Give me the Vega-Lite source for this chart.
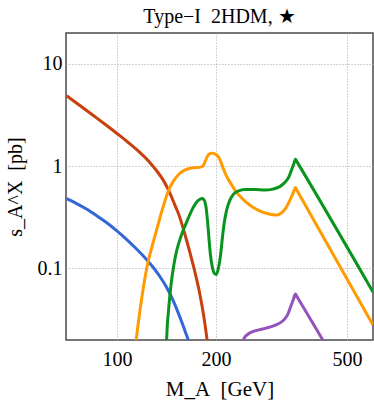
{
  "$schema": "https://vega.github.io/schema/vega-lite/v6.json",
  "width": 307,
  "height": 307,
  "autosize": "none",
  "padding": {"left": 66, "top": 33, "right": 1, "bottom": 61},
  "title": {"text": "Type−I\u00a0 2HDM, ★", "font": "Liberation Serif", "fontSize": 20, "fontWeight": "normal", "color": "#000000", "offset": 6},
  "config": {
    "view": {"stroke": "#4a4a4a", "strokeWidth": 1.5}
  },
  "data": {"values": [
    {"s": "red", "m": 70.33, "v": 4.873}, {"s": "red", "m": 77.5, "v": 3.876}, {"s": "red", "m": 84.8, "v": 3.123}, {"s": "red", "m": 92.2, "v": 2.551}, {"s": "red", "m": 100.2, "v": 2.075}, {"s": "red", "m": 108.2, "v": 1.703}, {"s": "red", "m": 117.5, "v": 1.354}, {"s": "red", "m": 126.0, "v": 1.082}, {"s": "red", "m": 132.3, "v": 0.894}, {"s": "red", "m": 137.9, "v": 0.738}, {"s": "red", "m": 143.7, "v": 0.577}, {"s": "red", "m": 149.8, "v": 0.421}, {"s": "red", "m": 152.9, "v": 0.36}, {"s": "red", "m": 156.2, "v": 0.297}, {"s": "red", "m": 160.6, "v": 0.2195}, {"s": "red", "m": 166.3, "v": 0.1465}, {"s": "red", "m": 172.1, "v": 0.0956}, {"s": "red", "m": 178.2, "v": 0.0583}, {"s": "red", "m": 183.2, "v": 0.0356}, {"s": "red", "m": 187.1, "v": 0.0222}, {"s": "red", "m": 188.4, "v": 0.01855},
    {"s": "blue", "m": 70.33, "v": 0.4812}, {"s": "blue", "m": 75.4, "v": 0.4306}, {"s": "blue", "m": 80.8, "v": 0.3806}, {"s": "blue", "m": 86.6, "v": 0.329}, {"s": "blue", "m": 92.9, "v": 0.2811}, {"s": "blue", "m": 99.5, "v": 0.2359}, {"s": "blue", "m": 106.7, "v": 0.194}, {"s": "blue", "m": 114.3, "v": 0.1567}, {"s": "blue", "m": 122.6, "v": 0.1238}, {"s": "blue", "m": 128.6, "v": 0.1034}, {"s": "blue", "m": 135.0, "v": 0.0835}, {"s": "blue", "m": 140.8, "v": 0.0675}, {"s": "blue", "m": 146.7, "v": 0.0521}, {"s": "blue", "m": 152.9, "v": 0.0381}, {"s": "blue", "m": 158.4, "v": 0.0284}, {"s": "blue", "m": 162.8, "v": 0.0222}, {"s": "blue", "m": 166.3, "v": 0.01834},
    {"s": "orange", "m": 113.9, "v": 0.01854}, {"s": "orange", "m": 114.3, "v": 0.01984}, {"s": "orange", "m": 115.9, "v": 0.02811}, {"s": "orange", "m": 117.5, "v": 0.03937}, {"s": "orange", "m": 119.2, "v": 0.05393}, {"s": "orange", "m": 121.7, "v": 0.0817}, {"s": "orange", "m": 124.2, "v": 0.1144}, {"s": "orange", "m": 127.7, "v": 0.1621}, {"s": "orange", "m": 131.3, "v": 0.2245}, {"s": "orange", "m": 135.0, "v": 0.311}, {"s": "orange", "m": 138.8, "v": 0.4211}, {"s": "orange", "m": 141.8, "v": 0.5213}, {"s": "orange", "m": 144.7, "v": 0.617}, {"s": "orange", "m": 147.8, "v": 0.6982}, {"s": "orange", "m": 151.9, "v": 0.7899}, {"s": "orange", "m": 156.2, "v": 0.864}, {"s": "orange", "m": 160.6, "v": 0.9141}, {"s": "orange", "m": 166.3, "v": 0.9497}, {"s": "orange", "m": 173.3, "v": 0.967}, {"s": "orange", "m": 179.5, "v": 0.9777}, {"s": "orange", "m": 183.2, "v": 1.023}, {"s": "orange", "m": 185.8, "v": 1.132}, {"s": "orange", "m": 188.4, "v": 1.252}, {"s": "orange", "m": 191.6, "v": 1.324}, {"s": "orange", "m": 195.0, "v": 1.339}, {"s": "orange", "m": 199.1, "v": 1.309}, {"s": "orange", "m": 202.6, "v": 1.252}, {"s": "orange", "m": 206.2, "v": 1.132}, {"s": "orange", "m": 210.5, "v": 0.9454}, {"s": "orange", "m": 214.9, "v": 0.8079}, {"s": "orange", "m": 221.0, "v": 0.6902}, {"s": "orange", "m": 228.8, "v": 0.5768}, {"s": "orange", "m": 238.5, "v": 0.4928}, {"s": "orange", "m": 252.0, "v": 0.4211}, {"s": "orange", "m": 270.1, "v": 0.3681}, {"s": "orange", "m": 289.5, "v": 0.3402}, {"s": "orange", "m": 306.0, "v": 0.3327}, {"s": "orange", "m": 316.9, "v": 0.3518}, {"s": "orange", "m": 325.8, "v": 0.3892}, {"s": "orange", "m": 334.9, "v": 0.4607}, {"s": "orange", "m": 342.0, "v": 0.5333}, {"s": "orange", "m": 345.6, "v": 0.5794}, {"s": "orange", "m": 348.7, "v": 0.617}, {"s": "orange", "m": 351.6, "v": 0.5886}, {"s": "orange", "m": 600, "v": 0.02798},
    {"s": "green", "m": 141.0, "v": 0.01854}, {"s": "green", "m": 141.5, "v": 0.01984}, {"s": "green", "m": 142.2, "v": 0.02779}, {"s": "green", "m": 143.2, "v": 0.03639}, {"s": "green", "m": 144.7, "v": 0.05332}, {"s": "green", "m": 146.4, "v": 0.07466}, {"s": "green", "m": 148.8, "v": 0.107}, {"s": "green", "m": 151.9, "v": 0.1498}, {"s": "green", "m": 155.7, "v": 0.1962}, {"s": "green", "m": 159.5, "v": 0.2429}, {"s": "green", "m": 164.0, "v": 0.3006}, {"s": "green", "m": 168.6, "v": 0.3681}, {"s": "green", "m": 173.3, "v": 0.4306}, {"s": "green", "m": 178.2, "v": 0.4712}, {"s": "green", "m": 181.9, "v": 0.4818}, {"s": "green", "m": 184.5, "v": 0.4607}, {"s": "green", "m": 186.4, "v": 0.4027}, {"s": "green", "m": 188.4, "v": 0.2939}, {"s": "green", "m": 190.4, "v": 0.1962}, {"s": "green", "m": 192.3, "v": 0.1369}, {"s": "green", "m": 195.0, "v": 0.1023}, {"s": "green", "m": 197.8, "v": 0.0894}, {"s": "green", "m": 200.5, "v": 0.0874}, {"s": "green", "m": 203.3, "v": 0.1}, {"s": "green", "m": 206.2, "v": 0.1309}, {"s": "green", "m": 209.0, "v": 0.1962}, {"s": "green", "m": 211.9, "v": 0.2811}, {"s": "green", "m": 215.6, "v": 0.3764}, {"s": "green", "m": 220.1, "v": 0.4607}, {"s": "green", "m": 225.5, "v": 0.5272}, {"s": "green", "m": 233.5, "v": 0.5703}, {"s": "green", "m": 245.2, "v": 0.5898}, {"s": "green", "m": 262.8, "v": 0.5898}, {"s": "green", "m": 281.7, "v": 0.5834}, {"s": "green", "m": 297.7, "v": 0.5966}, {"s": "green", "m": 312.6, "v": 0.631}, {"s": "green", "m": 323.6, "v": 0.6902}, {"s": "green", "m": 332.7, "v": 0.781}, {"s": "green", "m": 339.6, "v": 0.9244}, {"s": "green", "m": 345.6, "v": 1.08}, {"s": "green", "m": 348.7, "v": 1.17}, {"s": "green", "m": 351.6, "v": 1.119}, {"s": "green", "m": 600, "v": 0.059},
    {"s": "purple", "m": 240.9, "v": 0.01854}, {"s": "purple", "m": 243.4, "v": 0.02075}, {"s": "purple", "m": 248.5, "v": 0.02245}, {"s": "purple", "m": 257.3, "v": 0.02402}, {"s": "purple", "m": 270.1, "v": 0.02512}, {"s": "purple", "m": 285.6, "v": 0.02627}, {"s": "purple", "m": 301.8, "v": 0.02779}, {"s": "purple", "m": 314.7, "v": 0.02972}, {"s": "purple", "m": 323.6, "v": 0.03216}, {"s": "purple", "m": 330.4, "v": 0.03557}, {"s": "purple", "m": 337.3, "v": 0.04258}, {"s": "purple", "m": 343.2, "v": 0.04929}, {"s": "purple", "m": 348.7, "v": 0.05639}, {"s": "purple", "m": 351.6, "v": 0.05393}, {"s": "purple", "m": 432.9, "v": 0.0175}
  ]},
  "mark": {"type": "line", "clip": true, "strokeWidth": 3, "interpolate": "monotone"},
  "encoding": {
    "x": {"field": "m", "type": "quantitative", "scale": {"type": "log", "domain": [70, 600], "nice": false}, "axis": {"values": [100, 200, 500], "domain": false, "ticks": false, "grid": true, "gridColor": "#a6a6a6", "gridDash": [1, 2], "gridWidth": 1, "labelFont": "Liberation Serif", "labelFontSize": 20, "labelColor": "#000000", "labelPadding": 9, "title": "M_A\u00a0 [GeV]", "titleFont": "Liberation Serif", "titleFontSize": 21, "titleFontWeight": "normal", "titleColor": "#000000", "titlePadding": 9}},
    "y": {"field": "v", "type": "quantitative", "scale": {"type": "log", "domain": [0.02, 20], "nice": false}, "axis": {"values": [0.1, 1, 10], "format": ".2~f", "domain": false, "ticks": false, "grid": true, "gridColor": "#a6a6a6", "gridDash": [1, 2], "gridWidth": 1, "labelFont": "Liberation Serif", "labelFontSize": 20, "labelColor": "#000000", "labelPadding": 4, "title": "s_A^X\u00a0 [pb]", "titleFont": "Liberation Serif", "titleFontSize": 20, "titleFontWeight": "normal", "titleColor": "#000000", "titlePadding": 12}},
    "color": {"field": "s", "type": "nominal", "scale": {"domain": ["blue", "red", "orange", "green", "purple"], "range": ["#3366d6", "#c8400e", "#ff9a00", "#0a941e", "#9452bd"]}, "legend": null},
    "order": {"field": "m", "type": "quantitative"}
  }
}
